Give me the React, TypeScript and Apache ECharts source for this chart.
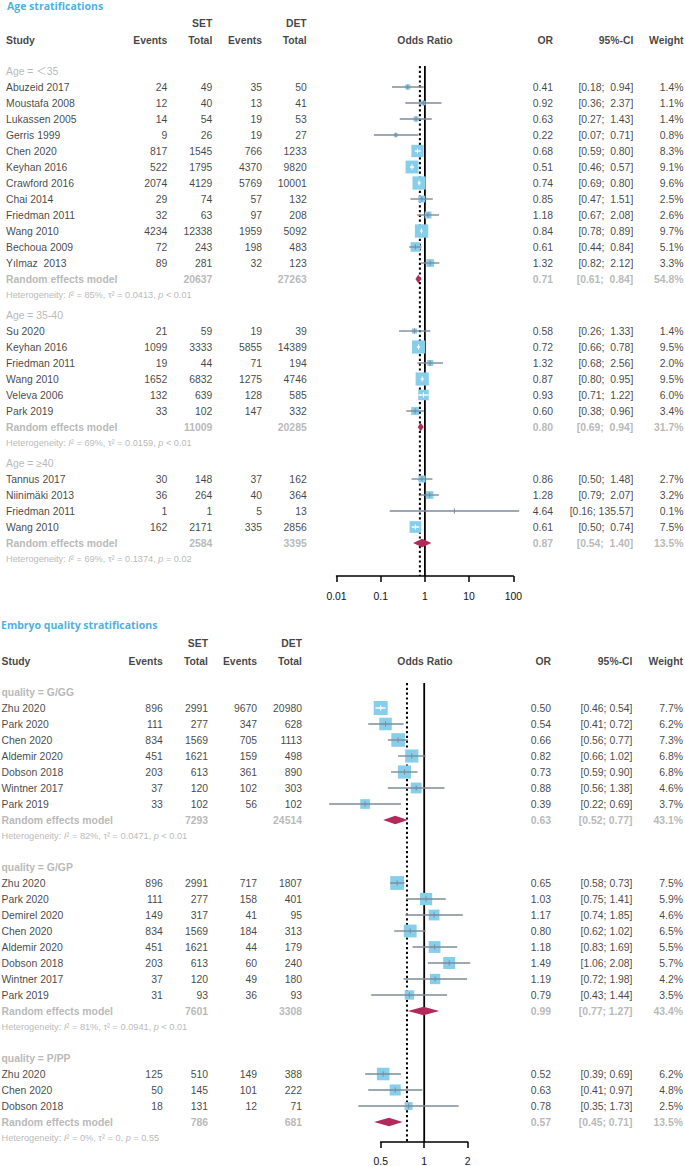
import React, { useEffect, useRef } from "react";
import * as echarts from "echarts";

// [study, SET events, SET total, DET events, DET total, OR, CI lower, CI upper, weight %]
type Row = [string, number, number, number, number, number, number, number, number];

const NB = "\u00A0";

// ---------- Age stratifications ----------
const ageLt35Studies: Row[] = [
  ["Abuzeid 2017", 24, 49, 35, 50, 0.41, 0.18, 0.94, 1.4],
  ["Moustafa 2008", 12, 40, 13, 41, 0.92, 0.36, 2.37, 1.1],
  ["Lukassen 2005", 14, 54, 19, 53, 0.63, 0.27, 1.43, 1.4],
  ["Gerris 1999", 9, 26, 19, 27, 0.22, 0.07, 0.71, 0.8],
  ["Chen 2020", 817, 1545, 766, 1233, 0.68, 0.59, 0.8, 8.3],
  ["Keyhan 2016", 522, 1795, 4370, 9820, 0.51, 0.46, 0.57, 9.1],
  ["Crawford 2016", 2074, 4129, 5769, 10001, 0.74, 0.69, 0.8, 9.6],
  ["Chai 2014", 29, 74, 57, 132, 0.85, 0.47, 1.51, 2.5],
  ["Friedman 2011", 32, 63, 97, 208, 1.18, 0.67, 2.08, 2.6],
  ["Wang 2010", 4234, 12338, 1959, 5092, 0.84, 0.78, 0.89, 9.7],
  ["Bechoua 2009", 72, 243, 198, 483, 0.61, 0.44, 0.84, 5.1],
  ["Yılmaz" + NB + " 2013", 89, 281, 32, 123, 1.32, 0.82, 2.12, 3.3],
];
// [SET total, DET total, OR, lower, upper, weight]
const ageLt35Pooled = [20637, 27263, 0.71, 0.61, 0.84, 54.8];
const ageLt35Het = ["85%", "0.0413", "< 0.01"];

const age3540Studies: Row[] = [
  ["Su 2020", 21, 59, 19, 39, 0.58, 0.26, 1.33, 1.4],
  ["Keyhan 2016", 1099, 3333, 5855, 14389, 0.72, 0.66, 0.78, 9.5],
  ["Friedman 2011", 19, 44, 71, 194, 1.32, 0.68, 2.56, 2.0],
  ["Wang 2010", 1652, 6832, 1275, 4746, 0.87, 0.8, 0.95, 9.5],
  ["Veleva 2006", 132, 639, 128, 585, 0.93, 0.71, 1.22, 6.0],
  ["Park 2019", 33, 102, 147, 332, 0.6, 0.38, 0.96, 3.4],
];
const age3540Pooled = [11009, 20285, 0.8, 0.69, 0.94, 31.7];
const age3540Het = ["69%", "0.0159", "< 0.01"];

const ageGe40Studies: Row[] = [
  ["Tannus 2017", 30, 148, 37, 162, 0.86, 0.5, 1.48, 2.7],
  ["Niinimäki 2013", 36, 264, 40, 364, 1.28, 0.79, 2.07, 3.2],
  ["Friedman 2011", 1, 1, 5, 13, 4.64, 0.16, 135.57, 0.1],
  ["Wang 2010", 162, 2171, 335, 2856, 0.61, 0.5, 0.74, 7.5],
];
const ageGe40Pooled = [2584, 3395, 0.87, 0.54, 1.4, 13.5];
const ageGe40Het = ["69%", "0.1374", "= 0.02"];

const ageOverallOR = 0.77;
const ageAxisRange = [0.01, 100];

// ---------- Embryo quality stratifications ----------
const qualityGGStudies: Row[] = [
  ["Zhu 2020", 896, 2991, 9670, 20980, 0.5, 0.46, 0.54, 7.7],
  ["Park 2020", 111, 277, 347, 628, 0.54, 0.41, 0.72, 6.2],
  ["Chen 2020", 834, 1569, 705, 1113, 0.66, 0.56, 0.77, 7.3],
  ["Aldemir 2020", 451, 1621, 159, 498, 0.82, 0.66, 1.02, 6.8],
  ["Dobson 2018", 203, 613, 361, 890, 0.73, 0.59, 0.9, 6.8],
  ["Wintner 2017", 37, 120, 102, 303, 0.88, 0.56, 1.38, 4.6],
  ["Park 2019", 33, 102, 56, 102, 0.39, 0.22, 0.69, 3.7],
];
const qualityGGPooled = [7293, 24514, 0.63, 0.52, 0.77, 43.1];
const qualityGGHet = ["82%", "0.0471", "< 0.01"];

const qualityGPStudies: Row[] = [
  ["Zhu 2020", 896, 2991, 717, 1807, 0.65, 0.58, 0.73, 7.5],
  ["Park 2020", 111, 277, 158, 401, 1.03, 0.75, 1.41, 5.9],
  ["Demirel 2020", 149, 317, 41, 95, 1.17, 0.74, 1.85, 4.6],
  ["Chen 2020", 834, 1569, 184, 313, 0.8, 0.62, 1.02, 6.5],
  ["Aldemir 2020", 451, 1621, 44, 179, 1.18, 0.83, 1.69, 5.5],
  ["Dobson 2018", 203, 613, 60, 240, 1.49, 1.06, 2.08, 5.7],
  ["Wintner 2017", 37, 120, 49, 180, 1.19, 0.72, 1.98, 4.2],
  ["Park 2019", 31, 93, 36, 93, 0.79, 0.43, 1.44, 3.5],
];
const qualityGPPooled = [7601, 3308, 0.99, 0.77, 1.27, 43.4];
const qualityGPHet = ["81%", "0.0941", "< 0.01"];

const qualityPPStudies: Row[] = [
  ["Zhu 2020", 125, 510, 149, 388, 0.52, 0.39, 0.69, 6.2],
  ["Chen 2020", 50, 145, 101, 222, 0.63, 0.41, 0.97, 4.8],
  ["Dobson 2018", 18, 131, 12, 71, 0.78, 0.35, 1.73, 2.5],
];
const qualityPPPooled = [786, 681, 0.57, 0.45, 0.71, 13.5];
const qualityPPHet = ["0%", "0", "= 0.55"];

const qualityOverallOR = 0.76;
const qualityAxisRange = [0.5, 2];

// ---------- styles ----------
const FONT = "'Liberation Sans', Arial, 'Noto Sans CJK SC', sans-serif";
const TITLE_FONT = "'Open Sans', 'Liberation Sans', sans-serif";
const BLACK = "#111111";
const GRAY = "#a6a6a6";
const BLUE = "#1b9bd8";
const SQUARE = "#87ceeb";
const CI_LINE = "#7b8b9b";
const DIAMOND = "#b22a5b";

const textStyles: Record<string, any> = {
  title: { fontFamily: TITLE_FONT, fontSize: 10.5, fontWeight: "bold", color: BLUE },
  head: { fontFamily: FONT, fontSize: 10.4, fontWeight: "bold", color: BLACK },
  body: { fontFamily: FONT, fontSize: 10.4, fontWeight: "normal", color: BLACK },
  label: { fontFamily: FONT, fontSize: 10.4, fontWeight: "normal", color: GRAY },
  labelBold: { fontFamily: FONT, fontSize: 10.4, fontWeight: "bold", color: GRAY },
  pooled: { fontFamily: FONT, fontSize: 10.4, fontWeight: "bold", color: GRAY },
  het: {
    fontFamily: FONT,
    fontSize: 9.2,
    color: GRAY,
    rich: {
      n: { fontFamily: FONT, fontSize: 9.2, color: GRAY },
      i: { fontFamily: FONT, fontSize: 9.2, color: GRAY, fontStyle: "italic" },
    },
  },
};

const panels = [
  {
    title: "Age stratifications",
    groups: [
      { label: "Age = ＜35", studies: ageLt35Studies, pooled: ageLt35Pooled, het: ageLt35Het },
      { label: "Age = 35-40", studies: age3540Studies, pooled: age3540Pooled, het: age3540Het },
      { label: "Age = ≥40", studies: ageGe40Studies, pooled: ageGe40Pooled, het: ageGe40Het },
    ],
    overall: ageOverallOR,
    range: ageAxisRange,
    logBase: 10,
  },
  {
    title: "Embryo quality stratifications",
    groups: [
      { label: "quality = G/GG", studies: qualityGGStudies, pooled: qualityGGPooled, het: qualityGGHet },
      { label: "quality = G/GP", studies: qualityGPStudies, pooled: qualityGPPooled, het: qualityGPHet },
      { label: "quality = P/PP", studies: qualityPPStudies, pooled: qualityPPPooled, het: qualityPPHet },
    ],
    overall: qualityOverallOR,
    range: qualityAxisRange,
    logBase: 2,
  },
];

const layouts = [
  {
    top: 0, axisY: 576, y0: 71, rowPx: 16, hetGapPx: 20, titleY: 6, setY: 23, headY: 40, refStartPx: 66,
    plotLeft: 336.5, plotWidth: 176.8, maxSide: 13.3, labelMargin: 15.5, labelBold: false, ciWide: true,
    x: { title: 7, study: 6, setEv: 167.3, setTot: 212.3, detEv: 262, detTot: 306.7, odds: 425, or: 553, ci: 633.3, wt: 683.5 },
  },
  {
    top: 612, axisY: 1142, y0: 692, rowPx: 16, hetGapPx: 31, titleY: 625, setY: 643, headY: 661, refStartPx: 683,
    plotLeft: 380.7, plotWidth: 87, maxSide: 14, labelMargin: 14.3, labelBold: true, ciWide: false,
    x: { title: 1, study: 1.5, setEv: 162.7, setTot: 208, detEv: 257, detTot: 302, odds: 425, or: 551, ci: 632.5, wt: 683 },
  },
];

function fmtCI(lo: number, hi: number, wide: boolean) {
  const h = hi.toFixed(2);
  const sep = wide && h.length < 6 ? NB + " " : " ";
  return `[${lo.toFixed(2)};${sep}${h}]`;
}

function hetText(h: string[]) {
  const t = (s: string) => s.replace(/ /g, NB);
  return (
    `{n|${t("Heterogeneity: ")}}{i|I}{n|${t(`² = ${h[0]}, τ² = ${h[1]}, `)}}{i|p}{n|${t(" " + h[2])}}`
  );
}

function buildPanel(p: any, L: any, idx: number) {
  const toU = (px: number) => (px - L.y0) / L.rowPx;
  const yMin = toU(L.top);
  const yMax = toU(L.axisY);
  const tIdx = idx * 2;
  const pIdx = idx * 2 + 1;

  const grids = [
    { left: 0, top: L.top, width: 685, height: L.axisY - L.top, containLabel: false, outerBoundsMode: "none" },
    { left: L.plotLeft, top: L.top, width: L.plotWidth, height: L.axisY - L.top, containLabel: false, outerBoundsMode: "none" },
  ];
  const xAxes = [
    { type: "value", gridIndex: tIdx, min: 0, max: 685, show: false },
    {
      type: "log",
      gridIndex: pIdx,
      position: "bottom",
      logBase: p.logBase,
      min: p.range[0],
      max: p.range[1],
      axisLine: { show: true, onZero: false, lineStyle: { color: "#000", width: 1.5 } },
      axisTick: { show: true, inside: false, length: 6, lineStyle: { color: "#000", width: 1.5 } },
      axisLabel: {
        show: true,
        margin: L.labelMargin,
        fontFamily: FONT,
        fontSize: 10.4,
        color: BLACK,
        formatter: (v: number) => String(Number(Number(v).toPrecision(4))),
      },
      splitLine: { show: false },
    },
  ];
  const yAxes = [tIdx, pIdx].map((g) => ({
    type: "value",
    gridIndex: g,
    min: yMin,
    max: yMax,
    inverse: true,
    show: false,
  }));

  type TI = { x: number; u: number; text: string; style: string; align: string };
  const items: TI[] = [];
  const add = (x: number, u: number, text: string, style: string, align: string) =>
    items.push({ x, u, text, style, align });
  const marks: number[][] = [];

  add(L.x.title, toU(L.titleY), p.title, "title", "left");
  add(L.x.setTot, toU(L.setY), "SET", "head", "right");
  add(L.x.detTot, toU(L.setY), "DET", "head", "right");
  const hu = toU(L.headY);
  add(L.x.study, hu, "Study", "head", "left");
  add(L.x.setEv, hu, "Events", "head", "right");
  add(L.x.setTot, hu, "Total", "head", "right");
  add(L.x.detEv, hu, "Events", "head", "right");
  add(L.x.detTot, hu, "Total", "head", "right");
  add(L.x.odds, hu, "Odds Ratio", "head", "center");
  add(L.x.or, hu, "OR", "head", "right");
  add(L.x.ci, hu, "95%-CI", "head", "right");
  add(L.x.wt, hu, "Weight", "head", "right");

  let maxW = 0;
  p.groups.forEach((g: any) => g.studies.forEach((s: Row) => (maxW = Math.max(maxW, s[8]))));

  let u = 0;
  p.groups.forEach((g: any, gi: number) => {
    if (gi > 0) u += L.hetGapPx / L.rowPx;
    add(L.x.study, u, g.label, L.labelBold ? "labelBold" : "label", "left");
    g.studies.forEach((s: Row) => {
      u += 1;
      add(L.x.study, u, s[0], "body", "left");
      add(L.x.setEv, u, String(s[1]), "body", "right");
      add(L.x.setTot, u, String(s[2]), "body", "right");
      add(L.x.detEv, u, String(s[3]), "body", "right");
      add(L.x.detTot, u, String(s[4]), "body", "right");
      add(L.x.or, u, s[5].toFixed(2), "body", "right");
      add(L.x.ci, u, fmtCI(s[6], s[7], L.ciWide), "body", "right");
      add(L.x.wt, u, s[8].toFixed(1) + "%", "body", "right");
      marks.push([s[5], s[6], s[7], s[8], u, 0]);
    });
    u += 1;
    const pl = g.pooled;
    add(L.x.study, u, "Random effects model", "pooled", "left");
    add(L.x.setTot, u, String(pl[0]), "pooled", "right");
    add(L.x.detTot, u, String(pl[1]), "pooled", "right");
    add(L.x.or, u, pl[2].toFixed(2), "pooled", "right");
    add(L.x.ci, u, fmtCI(pl[3], pl[4], L.ciWide), "pooled", "right");
    add(L.x.wt, u, pl[5].toFixed(1) + "%", "pooled", "right");
    marks.push([pl[2], pl[3], pl[4], pl[5], u, 1]);
    u += 1;
    add(L.x.study, u, hetText(g.het), "het", "left");
  });

  const series: any[] = [];
  const groupsMap: Record<string, TI[]> = {};
  items.forEach((it) => {
    const k = it.style + "|" + it.align;
    (groupsMap[k] = groupsMap[k] || []).push(it);
  });
  Object.keys(groupsMap).forEach((k) => {
    const [style, align] = k.split("|");
    const st = textStyles[style];
    series.push({
      type: "scatter",
      xAxisIndex: tIdx,
      yAxisIndex: tIdx,
      symbolSize: 1,
      silent: true,
      clip: false,
      z: 5,
      itemStyle: { color: "rgba(0,0,0,0)" },
      data: groupsMap[k].map((it) => ({ value: [it.x, it.u], text: it.text })),
      label: {
        show: true,
        position: "inside",
        align,
        verticalAlign: "middle",
        formatter: (pr: any) => pr.data.text,
        ...st,
      },
    });
  });

  const refStart = toU(L.refStartPx);
  series.push({
    type: "line",
    xAxisIndex: pIdx,
    yAxisIndex: pIdx,
    symbol: "none",
    silent: true,
    z: 2,
    data: [[1, refStart], [1, yMax]],
    lineStyle: { color: "#000", width: 1.8 },
  });
  series.push({
    type: "line",
    xAxisIndex: pIdx,
    yAxisIndex: pIdx,
    symbol: "none",
    silent: true,
    z: 2,
    data: [[p.overall, refStart], [p.overall, yMax]],
    lineStyle: { color: "#000", width: 2, type: [2.2, 2.6] },
  });

  series.push({
    type: "custom",
    xAxisIndex: pIdx,
    yAxisIndex: pIdx,
    silent: true,
    z: 3,
    encode: { x: [0, 1, 2], y: 4 },
    data: marks,
    renderItem: (_params: any, api: any) => {
      const or = api.value(0);
      const lo = api.value(1);
      const hi = api.value(2);
      const w = api.value(3);
      const uu = api.value(4);
      const pooled = api.value(5);
      const c = api.coord([or, uu]);
      const l = api.coord([lo, uu]);
      const h = api.coord([hi, uu]);
      if (pooled) {
        const hh = 4.3;
        return {
          type: "polygon",
          shape: { points: [[l[0], c[1]], [c[0], c[1] - hh], [h[0], c[1]], [c[0], c[1] + hh]] },
          style: { fill: DIAMOND },
        };
      }
      const s = L.maxSide * Math.sqrt(w / maxW);
      const inside = l[0] >= c[0] - s / 2 && h[0] <= c[0] + s / 2;
      const stroke = inside ? "#ffffff" : CI_LINE;
      return {
        type: "group",
        children: [
          { type: "rect", shape: { x: c[0] - s / 2, y: c[1] - s / 2, width: s, height: s }, style: { fill: SQUARE } },
          { type: "line", shape: { x1: l[0], y1: c[1], x2: h[0], y2: c[1] }, style: { stroke, lineWidth: 1.4 } },
          { type: "line", shape: { x1: c[0], y1: c[1] - 2.6, x2: c[0], y2: c[1] + 2.6 }, style: { stroke, lineWidth: 1 } },
        ],
      };
    },
  });

  return { grids, xAxes, yAxes, series };
}

export default function App() {
  const ref = useRef<HTMLDivElement>(null);
  useEffect(() => {
    document.body.style.margin = "0";
    if (!ref.current) return;
    const chart = echarts.init(ref.current, undefined, { renderer: "svg" });
    const built = panels.map((p, i) => buildPanel(p, layouts[i], i));
    const option: any = {
      animation: false,
      backgroundColor: "#ffffff",
      grid: built.flatMap((b) => b.grids),
      xAxis: built.flatMap((b) => b.xAxes),
      yAxis: built.flatMap((b) => b.yAxes),
      series: built.flatMap((b) => b.series),
    };
    chart.setOption(option);
    return () => chart.dispose();
  }, []);
  return <div ref={ref} style={{ width: 685, height: 1166 }} />;
}
